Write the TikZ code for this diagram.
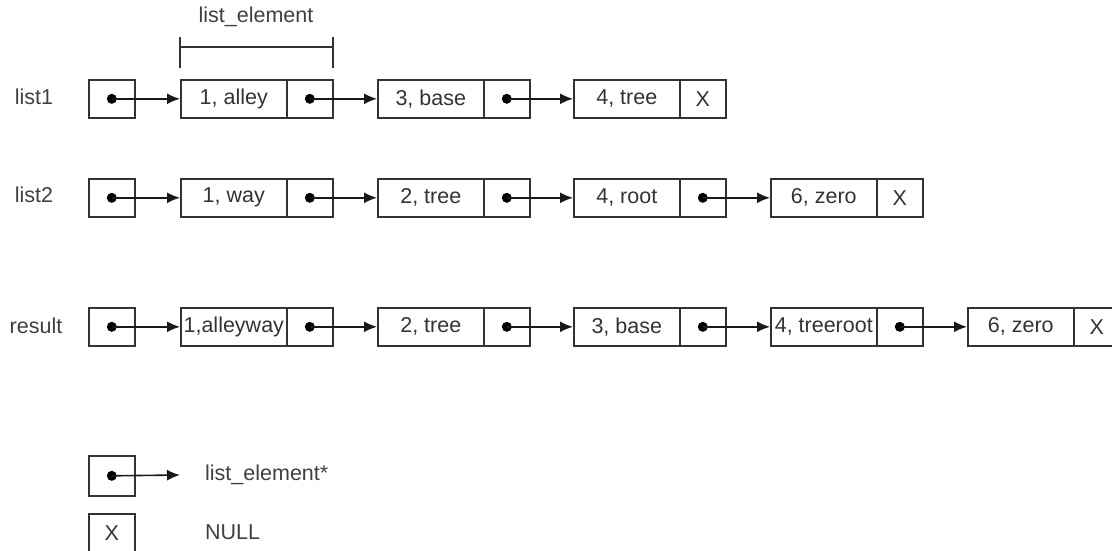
\documentclass[tikz,border=0pt]{standalone}
\usepackage{fontspec}
\setmainfont{Liberation Sans}
\usetikzlibrary{arrows.meta}
\newcommand\mkelem[5]{%
  \node[datacell] (#1d) at (#2,#3) {#4};
  \node[ptrcell] (#1p) at (#2+106,#3) {#5};}
\begin{document}
\begin{tikzpicture}[x=1pt,y=-1pt,
  cell/.style={draw=black!80, line width=1.6pt, minimum height=38pt, inner sep=0pt,
    anchor=north west, font=\fontsize{21.5}{24}\selectfont, text=black!80},
  datacell/.style={cell, minimum width=106pt},
  ptrcell/.style={cell, minimum width=46pt},
  lbl/.style={font=\fontsize{21.5}{24}\selectfont, text=black!75, inner sep=0pt},
  link/.style={line width=1.6pt, draw=black!90, -{Latex[length=13pt,width=11pt]}},
  dot/.style={circle, fill=black, inner sep=0pt, minimum size=10pt}]
\useasboundingbox (0,0) rectangle (1112,550);
\begin{scope}
\clip (0,0) rectangle (1112,550);
% labels
\node[lbl] (L1) at (34,97) {list1};
\node[lbl] (L2) at (34,195) {list2};
\node[lbl] (L3) at (36,326) {result};
% bracket
\node[lbl] (brlabel) at (256,17) {list\_element};
\draw[line width=1.6pt, draw=black!80] (180,37) -- (180,68) (180,47) -- (333,47) (333,37) -- (333,68);
% list1
\node[ptrcell] (h1) at (88,79) {};
\mkelem{a1}{180}{79}{1, alley}{}
\mkelem{a2}{377}{79}{3, base}{}
\mkelem{a3}{573}{79}{4, tree}{X}
\node[dot] (h1dot) at (h1.center) {};
\node[dot] (a1dot) at (a1p.center) {};
\node[dot] (a2dot) at (a2p.center) {};
\draw[link] (h1.center) -- (a1d.west);
\draw[link] (a1p.center) -- (a2d.west);
\draw[link] (a2p.center) -- (a3d.west);
% list2
\node[ptrcell] (h2) at (88,178) {};
\mkelem{b1}{180}{178}{1, way}{}
\mkelem{b2}{377}{178}{2, tree}{}
\mkelem{b3}{573}{178}{4, root}{}
\mkelem{b4}{770}{178}{6, zero}{X}
\node[dot] (h2dot) at (h2.center) {};
\node[dot] (b1dot) at (b1p.center) {};
\node[dot] (b2dot) at (b2p.center) {};
\node[dot] (b3dot) at (b3p.center) {};
\draw[link] (h2.center) -- (b1d.west);
\draw[link] (b1p.center) -- (b2d.west);
\draw[link] (b2p.center) -- (b3d.west);
\draw[link] (b3p.center) -- (b4d.west);
% result
\node[ptrcell] (h3) at (88,307) {};
\mkelem{c1}{180}{307}{1,alleyway}{}
\mkelem{c2}{377}{307}{2, tree}{}
\mkelem{c3}{573}{307}{3, base}{}
\mkelem{c4}{770}{307}{4, treeroot}{}
\mkelem{c5}{967}{307}{6, zero}{X}
\node[dot] (h3dot) at (h3.center) {};
\node[dot] (c1dot) at (c1p.center) {};
\node[dot] (c2dot) at (c2p.center) {};
\node[dot] (c3dot) at (c3p.center) {};
\node[dot] (c4dot) at (c4p.center) {};
\draw[link] (h3.center) -- (c1d.west);
\draw[link] (c1p.center) -- (c2d.west);
\draw[link] (c2p.center) -- (c3d.west);
\draw[link] (c3p.center) -- (c4d.west);
\draw[link] (c4p.center) -- (c5d.west);
% legend
\node[ptrcell, minimum height=40pt] (lg1) at (88,455) {};
\node[dot] (lgdot) at (lg1.center) {};
\coordinate (lgend) at (180,475);
\draw[link] (lg1.center) -- (lgend);
\node[lbl, anchor=west] (lgtext1) at (205,475) {list\_element*};
\node[ptrcell] (lg2) at (88,513) {X};
\node[lbl, anchor=west] (lgtext2) at (205,532) {NULL};
\end{scope}
\end{tikzpicture}
\end{document}
